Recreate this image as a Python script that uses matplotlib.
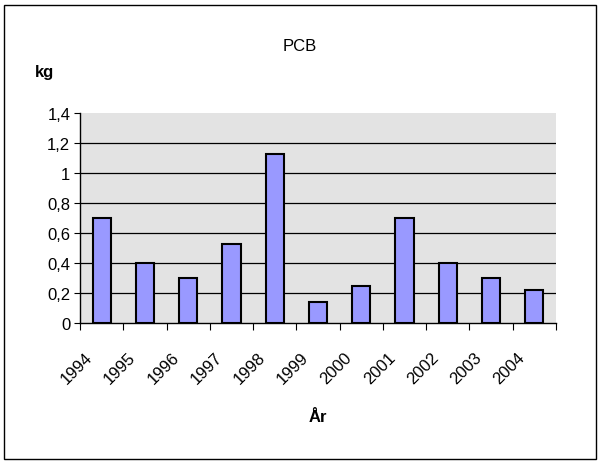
import matplotlib
matplotlib.use("Agg")
import matplotlib.pyplot as plt
from matplotlib.patches import Rectangle
from matplotlib.ticker import FixedLocator, FuncFormatter
from matplotlib.transforms import ScaledTranslation

years = ["1994", "1995", "1996", "1997", "1998", "1999", "2000", "2001", "2002", "2003", "2004"]
pcb_kg = [0.70, 0.40, 0.30, 0.53, 1.13, 0.14, 0.25, 0.70, 0.40, 0.30, 0.22]

plt.rcParams["font.family"] = ["Liberation Sans", "DejaVu Sans"]
FS = 12

fig = plt.figure(figsize=(6.0, 4.64), dpi=100)
# outer chart border
fig.patches.append(Rectangle((4 / 600, 4 / 464), 592 / 600, 454 / 464, transform=fig.transFigure,
                             fill=False, edgecolor="black", linewidth=1.0))

ax = fig.add_axes([80 / 600, 1 - 324 / 464, 476 / 600, 210 / 464])
ax.set_facecolor("#E3E3E3")

x = list(range(len(years)))
ax.bar(x, pcb_kg, width=0.42, color="#9999FF", edgecolor="black", linewidth=1.5, zorder=3)

ax.set_xlim(-0.5, len(years) - 0.5)
ax.set_ylim(0, 1.4)
ax.set_yticks([0, 0.2, 0.4, 0.6, 0.8, 1.0, 1.2, 1.4])
ax.yaxis.set_major_formatter(FuncFormatter(lambda v, _: f"{v:g}".replace(".", ",")))
# horizontal gridlines (none on top edge)
for v in [0.2, 0.4, 0.6, 0.8, 1.0, 1.2]:
    ax.axhline(v, color="black", linewidth=0.9, zorder=1)
ax.tick_params(axis="y", length=4, direction="out", labelsize=FS, pad=3)

# category ticks between bars, labels centred under bars
ax.xaxis.set_major_locator(FixedLocator([i - 0.5 for i in range(len(years) + 1)]))
ax.xaxis.set_major_formatter(FuncFormatter(lambda v, _: ""))
ax.xaxis.set_minor_locator(FixedLocator(x))
ax.set_xticklabels(years, minor=True, rotation=45, ha="right", rotation_mode="anchor", fontsize=FS)
ax.tick_params(axis="x", which="major", length=5, direction="out")
ax.tick_params(axis="x", which="minor", length=0, pad=8)
shift = ScaledTranslation(-17 / 100, -15 / 100, fig.dpi_scale_trans)
for lbl in ax.get_xticklabels(minor=True):
    lbl.set_transform(lbl.get_transform() + shift)

for side in ("top", "right"):
    ax.spines[side].set_visible(False)
ax.spines["left"].set_linewidth(1.0)
ax.spines["bottom"].set_linewidth(1.0)

fig.text(300 / 600, 1 - 47 / 464, "PCB", ha="center", va="center", fontsize=FS)
fig.text(45 / 600, 1 - 73 / 464, "kg", ha="center", va="center", fontsize=FS, fontweight="bold")
fig.text(318 / 600, 1 - 418 / 464, "År", ha="center", va="center", fontsize=FS, fontweight="bold")

fig.savefig("out.png", dpi=100)
